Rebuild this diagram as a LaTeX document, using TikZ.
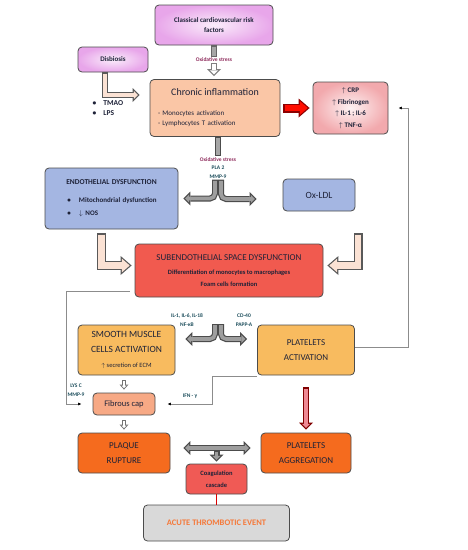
\documentclass[tikz,border=0pt]{standalone}
\usepackage{fontspec}
\setmainfont{Carlito}
\usetikzlibrary{arrows.meta}

\definecolor{riskpink}{HTML}{E8A6EA}
\definecolor{crppink}{HTML}{F2A9AD}
\definecolor{peach}{HTML}{FAC6A6}
\definecolor{endoblue}{HTML}{A4B6E2}
\definecolor{subred}{HTML}{F15A4F}
\definecolor{actorange}{HTML}{F8BB5F}
\definecolor{capsalmon}{HTML}{F7A985}
\definecolor{rupture}{HTML}{F56B1E}
\definecolor{coagred}{HTML}{F05A55}
\definecolor{acutegray}{HTML}{D9D9D9}
\definecolor{acutetxt}{HTML}{F5793A}
\definecolor{boxtxt}{HTML}{1E2238}
\definecolor{lbltxt}{HTML}{1D4E5C}
\definecolor{oxtxt}{HTML}{8E2B5C}
\definecolor{elbow}{HTML}{FBE2D4}
\definecolor{arrpink}{HTML}{EE8A95}

\begin{document}
\begin{tikzpicture}[x=1pt,y=-1pt]
  \tikzset{ bx/.style={draw=black!70,line width=0.8pt,rounded corners=4pt,inner sep=0pt,align=center,text=boxtxt},
    lbl/.style={font=\fontsize{5.5}{8.5}\selectfont\bfseries,align=center,text=lbltxt,inner sep=1pt},
    thinarr/.style={draw=black!45,line width=0.6pt,-{Latex[length=3.5pt,width=3pt,color=black]}},
    blkline/.style 2 args={draw=#1,line width=6pt,
      postaction={draw=#2,line width=3.6pt,shorten <=1.2pt,shorten >=1.2pt}},
    blk/.style 2 args={draw=#1,line width=6pt,-{Triangle[length=7pt,width=14pt,line width=0pt]},
      postaction={draw=#2,line width=3.6pt,shorten <=1.2pt,shorten >=1.7pt,-{Triangle[length=4.1pt,width=8.2pt,line width=0pt]}}},
    blkboth/.style 2 args={draw=#1,line width=6pt,{Triangle[length=7pt,width=14pt,line width=0pt]}-{Triangle[length=7pt,width=14pt,line width=0pt]},
      postaction={draw=#2,line width=3.6pt,shorten <=1.7pt,shorten >=1.7pt,{Triangle[length=4.1pt,width=8.2pt,line width=0pt]}-{Triangle[length=4.1pt,width=8.2pt,line width=0pt]}}},
    blkb/.style 2 args={draw=#1,line width=9pt,-{Triangle[length=11pt,width=19pt,line width=0pt]},
      postaction={draw=#2,line width=6.6pt,shorten <=1.2pt,shorten >=1.9pt,-{Triangle[length=7.9pt,width=13.8pt,line width=0pt]}}},
    blks/.style 2 args={draw=#1,line width=4pt,-{Triangle[length=5pt,width=9pt,line width=0pt]},
      postaction={draw=#2,line width=2.2pt,shorten <=0.9pt,shorten >=1.35pt,-{Triangle[length=2.75pt,width=5pt,line width=0pt]}}},
  }
  \useasboundingbox (0,0) rectangle (467,550);

  % boxes
  \node[bx,inner color=riskpink!20!white,outer color=riskpink,minimum width=118pt,minimum height=40pt,font=\fontsize{7}{10}\selectfont\bfseries] (risk) at (214,25) {Classical cardiovascular risk\\factors};
  \node[bx,inner color=riskpink!20!white,outer color=riskpink,minimum width=70pt,minimum height=25pt,font=\fontsize{7}{9}\selectfont\bfseries] (disb) at (113,59.5) {Disbiosis};
  \node[font=\fontsize{7.5}{10}\selectfont\bfseries,align=left,text=boxtxt,inner sep=0pt] (tmao) at (108,108) {•\hspace{7pt}TMAO\\•\hspace{7pt}LPS};
  \node[bx,fill=peach,minimum width=130pt,minimum height=57pt,text width=114pt,align=left,font=\fontsize{7}{10}\selectfont] (chronic) at (215,108)
    {\noindent\hfill{\fontsize{10}{12}\selectfont Chronic inflammation}\hfill\null\\[10pt]- Monocytes activation\\- Lymphocytes T activation};
  \node[bx,inner color=crppink!15!white,outer color=crppink,minimum width=75pt,minimum height=52pt,font=\fontsize{7}{11.5}\selectfont\bfseries] (crp) at (350.5,108)
    {$\uparrow$ CRP\\$\uparrow$ Fibrinogen\\$\uparrow$ IL-1 ; IL-6\\$\uparrow$ TNF-α};
  \node[bx,fill=endoblue,minimum width=133pt,minimum height=61pt,text width=121pt,align=left,font=\fontsize{7}{13}\selectfont\bfseries] (endo) at (111.5,198.5)
    {\noindent\hfill{\fontsize{7.5}{10}\selectfont ENDOTHELIAL DYSFUNCTION}\hfill\null\\[5pt]
     \hspace*{16.5pt}•\hspace{8pt}Mitochondrial dysfunction\\\hspace*{16.5pt}•\hspace{8pt}$\downarrow$ NOS};
  \node[bx,fill=endoblue,minimum width=72pt,minimum height=32pt,font=\fontsize{9.5}{11}\selectfont] (oxldl) at (319,195) {Ox-LDL};
  \node[bx,fill=subred,minimum width=188pt,minimum height=53pt,font=\fontsize{6.5}{12}\selectfont\bfseries] (sub) at (229,270.5)
    {{\fontsize{9}{11}\mdseries\selectfont SUBENDOTHELIAL SPACE DYSFUNCTION}\\[2pt]Differentiation of monocytes to macrophages\\Foam cells formation};
  \node[bx,fill=actorange,minimum width=97pt,minimum height=50pt,font=\fontsize{9.5}{15}\selectfont] (smc) at (126.5,350)
    {SMOOTH MUSCLE\\CELLS ACTIVATION\\{\fontsize{6.5}{8}\selectfont$\uparrow$ secretion of ECM}};
  \node[bx,fill=actorange,minimum width=97pt,minimum height=50pt,font=\fontsize{9}{15}\selectfont] (plact) at (306,350) {PLATELETS\\ACTIVATION};
  \node[bx,fill=capsalmon,minimum width=62pt,minimum height=22pt,font=\fontsize{8.5}{10}\selectfont] (fcap) at (124,404) {Fibrous cap};
  \node[bx,fill=rupture,minimum width=92pt,minimum height=40pt,font=\fontsize{9}{15}\selectfont] (plaque) at (124,453) {PLAQUE\\RUPTURE};
  \node[bx,fill=rupture,minimum width=90pt,minimum height=40pt,font=\fontsize{9}{15}\selectfont] (aggr) at (306,453) {PLATELETS\\AGGREGATION};
  \node[bx,fill=coagred,minimum width=61pt,minimum height=30pt,font=\fontsize{6.5}{12.5}\selectfont\bfseries] (coag) at (216.5,479) {Coagulation\\cascade};
  \node[bx,fill=acutegray,text=acutetxt,minimum width=146pt,minimum height=36pt,font=\fontsize{8.5}{10}\selectfont\bfseries] (acute) at (216.5,523) {ACUTE THROMBOTIC EVENT};

  % labels
  \node[lbl,text=oxtxt] (ox1) at (214,60) {Oxidative stress};
  \node[lbl] (ox2) at (218,168) {{\color{oxtxt}Oxidative stress}\\PLA 2\\MMP-9};
  \node[lbl] (il) at (187,320) {IL-1, IL-6, IL-18\\NF-κB};
  \node[lbl] (cd) at (244,320) {CD-40\\PAPP-A};
  \node[lbl] (lys) at (76,390) {LYS C\\MMP-9};
  \node[lbl] (ifn) at (190,396) {IFN - γ};
  \coordinate (s2) at (218,324);

  % arrows
  \draw[blkline={black!60}{black!35}] (ox1.north |- risk.south) -- (ox1.north);
  \draw[blk={black!50}{white}] (ox1.south) -- ([yshift=3pt]ox1.south |- chronic.north);
  \draw[blk={black!65}{elbow}] ([xshift=-8pt]disb.south) |- ([xshift=-10pt,yshift=13pt]chronic.west);
  \draw[blkb={red!55!black}{red!90!orange}] ([xshift=3pt]chronic.east) -- ([xshift=-3pt]crp.west);

  \draw[blkline={black!70}{black!35}] (ox2.north |- chronic.south) -- (ox2.north);
  \draw[blk={black!70}{black!38},rounded corners=5pt] ([xshift=-3pt]ox2.south) |- ([xshift=5pt]endo.east);
  \draw[blk={black!70}{black!38},rounded corners=5pt] ([xshift=3pt]ox2.south) |- ([xshift=-26pt,yshift=-4pt]oxldl.west);

  \draw[blkb={black!65}{elbow}] ([xshift=-10pt,yshift=-4pt]endo.south) |- ([xshift=-3pt,yshift=5pt]sub.west);
  \draw[blkb={black!65}{elbow}] ([xshift=39pt,yshift=-22pt]oxldl.south) |- ([xshift=4pt,yshift=5pt]sub.east);

  \draw[blk={black!70}{black!38},rounded corners=5pt] ([xshift=-3pt]s2) |- ([xshift=10pt,yshift=11pt]smc.east);
  \draw[blk={black!70}{black!38},rounded corners=5pt] ([xshift=3pt]s2) |- ([xshift=-10pt,yshift=11pt]plact.west);

  \draw[blks={black!55}{white}] ([yshift=-5pt]fcap.north |- smc.south) -- ([yshift=3pt]fcap.north);
  \draw[blks={black!55}{white}] ([yshift=-5pt]fcap.south) -- ([yshift=3pt]plaque.north);
  \draw[blk={red!50!black}{arrpink}] ([yshift=-12pt]plact.south) -- ([yshift=3pt]aggr.north);

  \draw[thinarr] ([xshift=-5pt,yshift=6pt]sub.south west) -- ++(-63,0) |- ([xshift=-11pt]fcap.west);
  \draw[thinarr] ([yshift=-1pt]plact.south west) -- ++(-45,0) |- ([xshift=12pt]fcap.east);
  \draw[thinarr] ([yshift=3pt]plact.east) -- ++(53,0) |- ([xshift=10pt]crp.east);

  \draw[blkboth={black!70}{black!38}] ([xshift=13pt,yshift=5pt]plaque.east) -- ([xshift=-10pt,yshift=5pt]aggr.west);
  \draw[blk={black!70}{black!38}] ([yshift=2pt]plaque.east -| coag.north) -- ([yshift=2pt]coag.north);
  \draw[red!85!black,line width=1.2pt] (coag.south) -- (acute.north);
\end{tikzpicture}
\end{document}
